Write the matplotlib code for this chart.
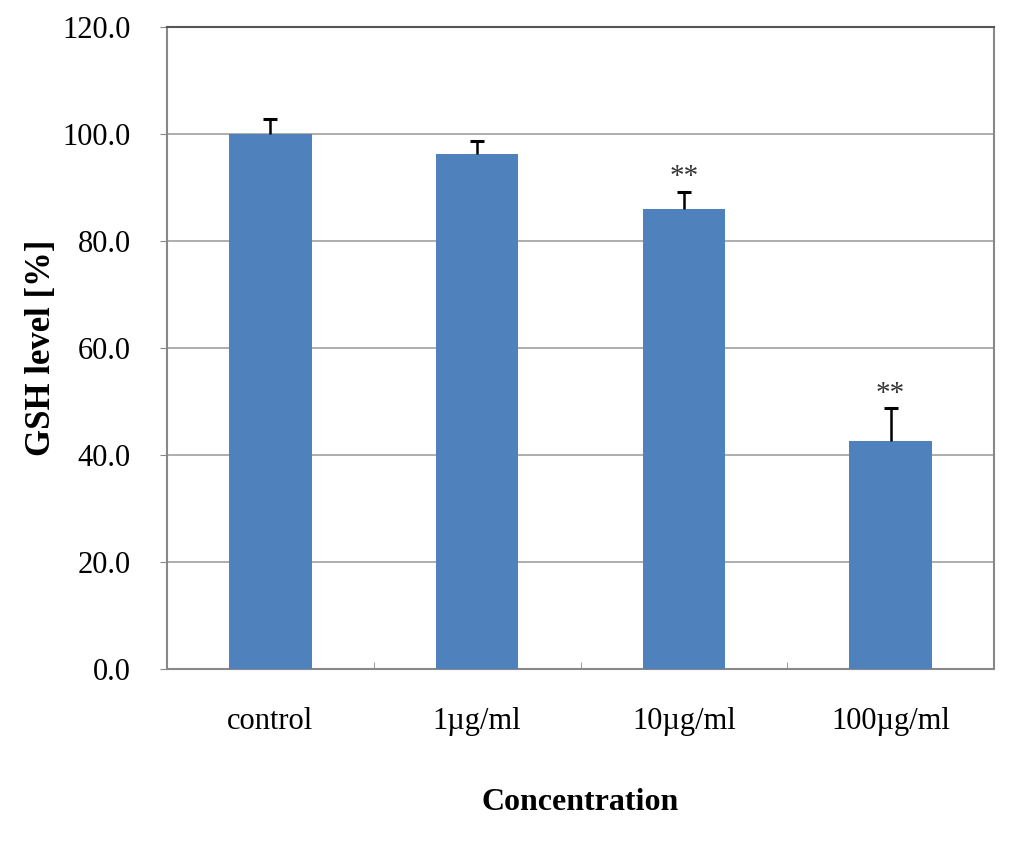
import matplotlib
matplotlib.use("Agg")
import matplotlib.pyplot as plt
import numpy as np

categories = ["control", "1\u00b5g/ml", "10\u00b5g/ml", "100\u00b5g/ml"]
values = [100.0, 96.2, 86.0, 42.7]
errors = [2.8, 2.4, 3.2, 6.1]
stars = ["", "", "**", "**"]
yticks = [0, 20, 40, 60, 80, 100, 120]

plt.rcParams['font.family'] = ['Liberation Serif', 'DejaVu Serif']

fig = plt.figure(figsize=(10.24, 8.43), dpi=100)
ax = fig.add_axes([0.1631, 0.2064, 0.8076, 0.7616])

x = np.arange(len(categories))
vals = np.array(values)
errs = np.array(errors)
ax.bar(x, vals, width=0.4, color="#4F81BD", zorder=3)
ax.errorbar(x, vals, yerr=[np.zeros(len(errs)), errs], fmt="none",
            ecolor="black", elinewidth=1.8, capsize=0, zorder=4)
ax.plot(x, vals + errs, linestyle="none", marker="_", markersize=10,
        markeredgewidth=2.2, color="black", zorder=4)
for xi, v, e, s in zip(x, vals, errs, stars):
    if s:
        ax.annotate(s, (xi, v + e), xytext=(0, 1), textcoords="offset points",
                    ha="center", va="bottom", fontsize=21, color="#333333")

ax.set_xlim(-0.5, len(categories) - 0.5)
ax.set_ylim(0, 120)
ax.set_yticks(yticks)
ax.set_yticklabels([f"{t:.1f}" for t in yticks], fontsize=22)
ax.set_xticks(x)
ax.set_xticklabels(categories, fontsize=22)
ax.tick_params(axis="x", length=0, pad=27)
ax.set_xticks(np.arange(len(categories) + 1) - 0.5, minor=True)
ax.tick_params(axis="x", which="minor", direction="in", length=5, color="#888888")
ax.tick_params(axis="y", direction="out", length=5, color="#888888", pad=21)
ax.yaxis.grid(True, color="#A0A0A0", linewidth=1.2, zorder=0)
ax.set_axisbelow(True)

for side in ["left", "bottom", "right"]:
    ax.spines[side].set_color("#888888")
    ax.spines[side].set_linewidth(1.5)
ax.spines["top"].set_color("#555555")
ax.spines["top"].set_linewidth(1.5)

ax.set_ylabel("GSH level [%]", fontsize=25, fontweight="bold", labelpad=3)
ax.set_xlabel("Concentration", fontsize=23, fontweight="bold", labelpad=38)

fig.savefig("out.png", dpi=100)
